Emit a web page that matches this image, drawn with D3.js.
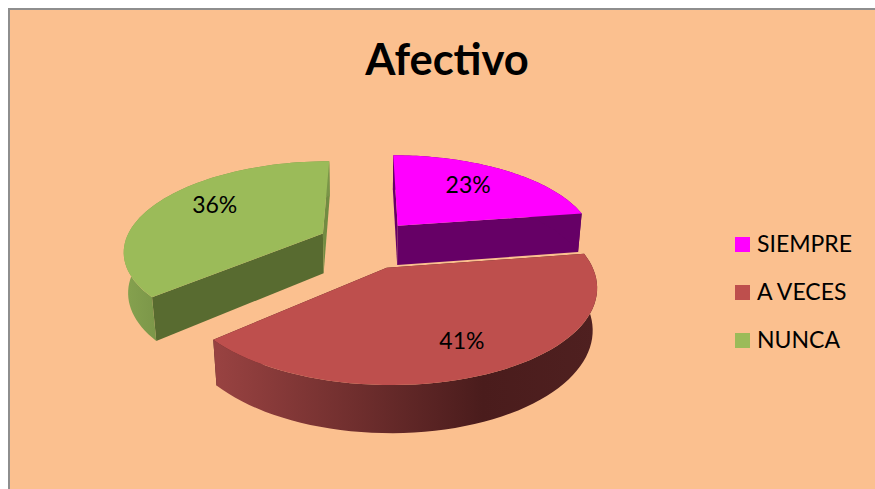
<!DOCTYPE html>
<html>
<head>
<meta charset="utf-8">
<title>Afectivo</title>
<script src="https://cdnjs.cloudflare.com/ajax/libs/d3/7.8.5/d3.min.js"></script>
<style>
    html, body { margin: 0; padding: 0; background: #fff; }
    svg { display: block; }
    text { font-family: Lato, "Open Sans", sans-serif; fill: #000; }
</style>
</head>
<body>
<div id="chart"></div>
<script>
var categories = ['SIEMPRE', 'A VECES', 'NUNCA'];
var values = [22.6, 40.9, 36.5];
var percentLabels = ['23%', '41%', '36%'];
var chartTitle = 'Afectivo';

var width = 875, height = 489;
var topColors = ['#ff00ff', '#be4f4d', '#9bbb59'];
var wallColors = ['#660066', '#4f2020', '#586b30'];
var sliverColors = ['#660066', '#4f2020', '#728c42'];

// pie is drawn in a flat plane, then projected with a simple perspective
var radius = 198, explode = 47, depth = 41, depthZ = 20;
var cx = 365, cy = 245, tilt = 0.445, camera = 1100;
var sliceShift = [[3, -4], [1, 3], [0, -3]];
var labelNudge = [[-2, -3], [9, 10], [0, -7]];
var labelRadius = 0.65;

var svg = d3.select('#chart').append('svg')
    .attr('width', width)
    .attr('height', height);

var defs = svg.append('defs');

var redRim = defs.append('linearGradient')
    .attr('id', 'rimRed')
    .attr('gradientUnits', 'userSpaceOnUse')
    .attr('x1', 218).attr('x2', 596).attr('y1', 0).attr('y2', 0);
redRim.append('stop').attr('offset', '0').attr('stop-color', '#984241');
redRim.append('stop').attr('offset', '0.7').attr('stop-color', '#4a1c1c');
redRim.append('stop').attr('offset', '1').attr('stop-color', '#4f2020');

var greenRim = defs.append('linearGradient')
    .attr('id', 'rimGreen')
    .attr('gradientUnits', 'userSpaceOnUse')
    .attr('x1', 124).attr('x2', 160).attr('y1', 0).attr('y2', 0);
greenRim.append('stop').attr('offset', '0').attr('stop-color', '#86a24f');
greenRim.append('stop').attr('offset', '1').attr('stop-color', '#7a9548');

var rimFills = ['#660066', 'url(#rimRed)', 'url(#rimGreen)'];

// background panel with the grey border on top and left
svg.append('rect')
    .attr('x', 9).attr('y', 9)
    .attr('width', width).attr('height', height)
    .attr('fill', '#fbc08f')
    .attr('stroke', '#8e8e8e')
    .attr('stroke-width', 2);

svg.append('text')
    .attr('x', 447)
    .attr('y', 75)
    .attr('text-anchor', 'middle')
    .style('font-size', '43.5px')
    .style('font-weight', 700)
    .text(chartTitle);

function project(X, Z, low, shift) {
    var s = 1 / (1 + (Z + (low ? depthZ : 0)) / camera);
    return [cx + shift[0] + X * s, cy + shift[1] - Z * tilt * s + (low ? depth * s : 0)];
}

var pie = d3.pie().sort(null)(values);
var line = d3.line();

var slices = pie.map(function(d, i) {
    var mid = (d.startAngle + d.endAngle) / 2;
    var ox = explode * Math.sin(mid), oz = explode * Math.cos(mid);
    var rim = d3.range(0, 61).map(function(k) {
        var a = d.startAngle + (d.endAngle - d.startAngle) * k / 60;
        return [ox + radius * Math.sin(a), oz + radius * Math.cos(a)];
    });
    return { i: i, mid: mid, ox: ox, oz: oz, rim: rim, shift: sliceShift[i] };
});

function drawSlice(sl) {
    var g = svg.append('g').attr('class', 'slice');
    var top = sl.rim.map(function(p) { return project(p[0], p[1], false, sl.shift); });
    var low = sl.rim.map(function(p) { return project(p[0], p[1], true, sl.shift); });
    var apexTop = project(sl.ox, sl.oz, false, sl.shift);
    var apexLow = project(sl.ox, sl.oz, true, sl.shift);
    var first = 0, last = top.length - 1;

    // cut faces, then outer wall, then the top covers anything facing away
    g.append('path')
        .attr('d', line([apexTop, top[first], low[first], apexLow]) + 'Z')
        .attr('fill', wallColors[sl.i]);
    g.append('path')
        .attr('d', line([apexTop, top[last], low[last], apexLow]) + 'Z')
        .attr('fill', sliverColors[sl.i]);
    g.append('path')
        .attr('d', line(top.concat(low.slice().reverse())) + 'Z')
        .attr('fill', rimFills[sl.i]);
    g.append('path')
        .attr('d', line([apexTop].concat(top)) + 'Z')
        .attr('fill', topColors[sl.i]);
}

// back to front
drawSlice(slices[2]);
drawSlice(slices[0]);
drawSlice(slices[1]);

slices.forEach(function(sl) {
    var X = sl.ox + labelRadius * radius * Math.sin(sl.mid);
    var Z = sl.oz + labelRadius * radius * Math.cos(sl.mid);
    var p = project(X, Z, false, sl.shift);
    svg.append('text')
        .attr('x', p[0] + labelNudge[sl.i][0])
        .attr('y', p[1] + labelNudge[sl.i][1])
        .attr('dy', '0.35em')
        .attr('text-anchor', 'middle')
        .style('font-size', '23px')
        .text(percentLabels[sl.i]);
});

var legendY = d3.scalePoint()
    .domain(categories)
    .range([244, 340]);

var legend = svg.selectAll('g.legend')
    .data(categories)
    .enter().append('g')
    .attr('class', 'legend')
    .attr('transform', function(d) { return 'translate(735,' + legendY(d) + ')'; });

legend.append('rect')
    .attr('x', 0).attr('y', -7)
    .attr('width', 15).attr('height', 15)
    .attr('fill', function(d, i) { return topColors[i]; });

legend.append('text')
    .attr('x', 22)
    .attr('y', 0)
    .attr('dy', '0.35em')
    .style('font-size', '23px')
    .text(function(d) { return d; });
</script>
</body>
</html>
